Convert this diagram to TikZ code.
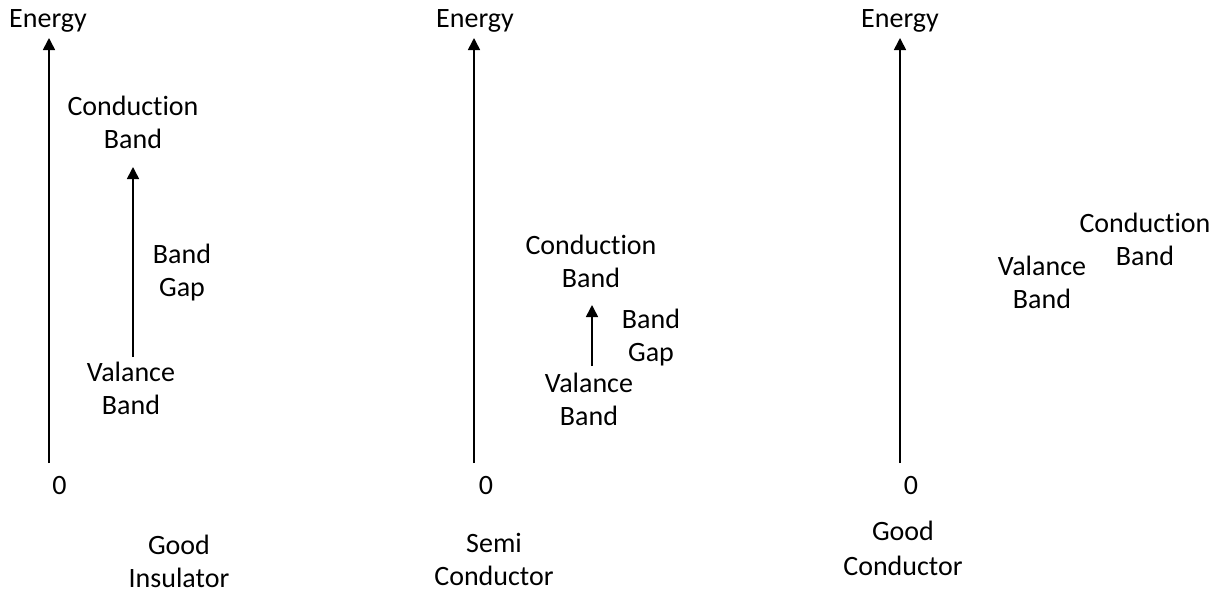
\documentclass[tikz,border=0pt]{standalone}
\usepackage{fontspec}
\setmainfont{Carlito}[Ligatures=NoCommon]
\usetikzlibrary{arrows.meta}
\tikzset{
  lbl/.style={align=center,anchor=base,inner sep=0pt,font=\fontsize{28}{33}\selectfont},
  axis/.style={-{Triangle[width=12pt,length=12pt]},line width=1.6pt}
}

\begin{document}
\begin{tikzpicture}[x=1pt,y=-1pt]
  \useasboundingbox (0,0) rectangle (1221,592);

  % insulator
  \coordinate (o1) at (49,463);
  \coordinate (t1) at (49,38);
  \coordinate (gb1) at (133,357);
  \coordinate (gt1) at (133,167);
  \node[lbl] (en1) at (48,27) {Energy};
  \node[lbl] (z1) at (59.5,494) {0};
  \node[lbl] (cb1) at (133,148) {Conduction\\Band};
  \node[lbl] (gap1) at (182,296) {Band\\Gap};
  \node[lbl] (vb1) at (131,414) {Valance\\Band};
  \node[lbl] (nm1) at (179,587) {Good\\Insulator};
  \draw[axis] (o1)--(t1);
  \draw[axis] (gb1)--(gt1);

  % semiconductor
  \coordinate (o2) at (474,463);
  \coordinate (t2) at (474,38);
  \coordinate (gb2) at (592,366);
  \coordinate (gt2) at (592,305);
  \node[lbl] (en2) at (475,27) {Energy};
  \node[lbl] (z2) at (486,494) {0};
  \node[lbl] (cb2) at (591,287) {Conduction\\Band};
  \node[lbl] (gap2) at (651,361) {Band\\Gap};
  \node[lbl] (vb2) at (589,425) {Valance\\Band};
  \node[lbl] (nm2) at (494,585) {Semi\\Conductor};
  \draw[axis] (o2)--(t2);
  \draw[axis] (gb2)--(gt2);

  % conductor, bands overlap
  \coordinate (o3) at (900,463);
  \coordinate (t3) at (900,38);
  \node[lbl] (en3) at (900,27) {Energy};
  \node[lbl] (z3) at (911,494) {0};
  \node[lbl] (cb3) at (1145,265) {Conduction\\Band};
  \node[lbl] (vb3) at (1042,308) {Valance\\Band};
  \node[lbl,font=\fontsize{28}{35}\selectfont] (nm3) at (903,575) {Good\\Conductor};
  \draw[axis] (o3)--(t3);
\end{tikzpicture}
\end{document}
